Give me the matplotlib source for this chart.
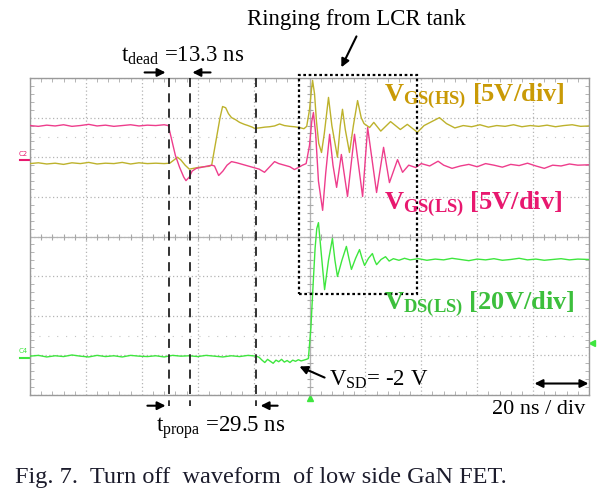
"""
Turn-off waveform of the low side GaN FET (scope capture, Fig. 7)

Three scope channels at 20 ns/div:
    V_GS(HS)  5 V/div  (gold)
    V_GS(LS)  5 V/div  (pink)
    V_DS(LS) 20 V/div  (green)
Levels are in screen divisions from the centre line, time in ns (trigger = 0).

Output:
    out.png
"""

import matplotlib.pyplot as plt
import numpy as np
from matplotlib.patches import Rectangle

# -- Trace data --------------------------------------------------------------

HS_T = [-100, -97, -94, -91, -88, -85, -82, -79, -76, -73, -70, -67, -64, -61,
        -58, -55, -52, -50, -48.5, -47.2, -46, -44.5, -43, -41.5, -40, -38,
        -36, -35, -34, -33, -32, -31.1, -30, -29, -27.9, -26.5, -25, -23.3,
        -22, -20.5, -19.7, -18, -16, -14.3, -12.5, -10.7, -9, -7, -5.4, -3.6,
        -2, -1, 0, 0.7, 1.1, 1.8, 2.5, 3.3, 4.3, 5.3, 6.8, 8.0, 10.0, 11.0,
        11.8, 12.8, 14.3, 15.7, 17.2, 18.5, 19.5, 21.5, 23, 25.5, 29, 32.5, 35,
        38.6, 41, 46.5, 49, 52, 55, 58, 61, 64, 67, 70, 73, 76, 79, 82, 85, 88,
        91, 94, 97, 100]
HS_V = [1.84, 1.86, 1.83, 1.85, 1.82, 1.86, 1.84, 1.87, 1.83, 1.85, 1.84, 1.87,
        1.83, 1.86, 1.84, 1.85, 1.84, 1.85, 1.93, 2.00, 1.93, 1.80, 1.70, 1.72,
        1.74, 1.76, 1.77, 1.80, 2.20, 2.60, 3.00, 3.28, 3.25, 3.10, 3.00, 2.95,
        2.88, 2.83, 2.80, 2.76, 2.73, 2.74, 2.76, 2.77, 2.79, 2.84, 2.80, 2.78,
        2.77, 2.75, 2.72, 2.78, 3.20, 3.70, 3.94, 3.60, 2.90, 2.35, 2.12, 2.60,
        3.51, 2.80, 2.00, 2.80, 3.21, 2.70, 2.12, 2.80, 3.43, 3.00, 2.85, 2.75,
        2.88, 2.66, 2.90, 2.70, 2.83, 2.63, 2.80, 3.00, 2.85, 2.74, 2.80, 2.77,
        2.82, 2.76, 2.80, 2.78, 2.82, 2.77, 2.80, 2.78, 2.81, 2.77, 2.80, 2.82,
        2.78, 2.79]

LS_T = [-100, -97, -94, -91, -88, -85, -82, -79, -76, -73, -70, -67, -64, -61,
        -58, -55, -52, -50.5, -49.5, -48, -46.5, -45, -44.2, -43, -42, -40.5,
        -39, -37, -35, -34, -33, -32.5, -31, -29.5, -27.9, -26, -24, -22, -20,
        -18, -16.1, -14.5, -12.5, -11, -9, -7, -5.4, -4, -2.5, -1.2, 0, 0.8,
        1.4, 2.2, 3.2, 4.7, 5.8, 7.2, 8.4, 9.7, 11.4, 13.6, 16.1, 19.0, 20.8,
        24.0, 26.5, 28.6, 31.5, 33.3, 35.5, 38, 40, 43, 46, 48, 51, 54, 57, 60,
        63, 66, 69, 72, 75, 78, 81, 84, 87, 90, 93, 96, 100]
LS_V = [2.80, 2.78, 2.81, 2.79, 2.82, 2.78, 2.80, 2.83, 2.79, 2.81, 2.78, 2.80,
        2.82, 2.79, 2.81, 2.80, 2.82, 2.80, 2.50, 2.05, 1.75, 1.50, 1.41, 1.50,
        1.65, 1.72, 1.74, 1.77, 1.80, 1.78, 1.62, 1.54, 1.65, 1.80, 1.89, 1.86,
        1.82, 1.78, 1.74, 1.70, 1.62, 1.74, 1.89, 1.84, 1.80, 1.76, 1.69, 1.74,
        1.80, 1.84, 2.30, 2.90, 3.13, 2.60, 1.40, 0.66, 1.60, 2.58, 1.80, 1.24,
        2.07, 1.01, 2.58, 1.01, 2.75, 1.11, 2.25, 1.36, 1.94, 1.62, 1.80, 1.74,
        1.84, 1.78, 1.90, 1.80, 1.72, 1.78, 1.82, 1.76, 1.84, 1.80, 1.75, 1.82,
        1.79, 1.85, 1.78, 1.72, 1.80, 1.78, 1.83, 1.80, 1.81]

DS_T = [-100, -97, -94, -91, -88, -85, -82, -79, -76, -73, -70, -67, -64, -61,
        -58, -55, -52, -49, -46, -43, -40, -37, -34, -31, -28, -25, -22, -19,
        -18, -17, -16, -15, -14, -13, -12, -11, -10, -9, -8, -7, -6, -5, -4,
        -3, -2, -1.1, -0.4, 0.5, 1.3, 2.0, 2.6, 3.2, 4.3, 5.4, 6.8, 8.2, 9.1,
        10.0, 11.6, 13.2, 14.1, 15.0, 16.5, 17.9, 18.8, 19.7, 21.1, 22.5, 23.3,
        24.0, 25.6, 27.2, 28.5, 30, 32, 34, 36, 39, 42, 45, 48, 51, 54, 57, 60,
        63, 66, 69, 72, 75, 78, 81, 84, 87, 90, 93, 96, 100]
DS_V = [-3.02, -3.00, -3.04, -3.01, -3.03, -2.99, -3.02, -3.04, -3.00, -3.03,
        -3.01, -3.04, -3.00, -3.02, -3.03, -3.01, -3.04, -3.00, -3.02, -3.01,
        -3.03, -3.00, -3.02, -3.04, -3.01, -3.03, -3.00, -3.02, -3.05, -3.12,
        -3.18, -3.10, -3.15, -3.20, -3.12, -3.16, -3.10, -3.17, -3.13, -3.18,
        -3.12, -3.15, -3.11, -3.14, -3.12, -3.10, -3.08, -2.30, -1.20, -0.30,
        0.20, 0.35, -0.50, -1.34, -0.60, -0.05, -0.60, -1.01, -0.60, -0.25,
        -0.55, -0.83, -0.55, -0.33, -0.55, -0.73, -0.55, -0.43, -0.60, -0.71,
        -0.58, -0.51, -0.62, -0.56, -0.60, -0.55, -0.59, -0.56, -0.60, -0.57,
        -0.59, -0.55, -0.58, -0.61, -0.57, -0.59, -0.56, -0.60, -0.58, -0.55,
        -0.59, -0.57, -0.60, -0.58, -0.56, -0.59, -0.57, -0.58]

# channel markers (levels in divisions)
C2_LEVEL = 1.97
C4_LEVEL = -3.02
TRIG_LEVEL = -2.68

# -- Annotation positions ----------------------------------------------------

CURSOR_T = [-50.1, -42.9, -19.0]        # dashed timing cursors
BOX_T = (-3.9, 38.6)                    # ringing box, time span
BOX_V = (-1.46, 4.07)                   # ringing box, level span

HS_TRACE, HS_TEXT = "#bdb22c", "#c99a06"
LS_TRACE, LS_TEXT = "#ee3d8c", "#e8186f"
DS_TRACE, DS_TEXT = "#3ee63e", "#3cbf3c"

plt.rcParams["font.family"] = "Liberation Serif"
plt.rcParams["mathtext.fontset"] = "custom"
plt.rcParams["mathtext.rm"] = "Liberation Serif"
plt.rcParams["mathtext.it"] = "Liberation Serif:italic"
plt.rcParams["mathtext.bf"] = "Liberation Serif:bold"

fig = plt.figure(figsize=(6.10, 5.03), dpi=100)
ax = fig.add_axes([30 / 610, 1 - 395 / 503, 559 / 610, 317 / 503])

# -- Graticule ---------------------------------------------------------------
ax.set_xlim(-100, 100)
ax.set_ylim(-4, 4)
ax.set_xticks(np.arange(-100, 101, 20))
ax.set_yticks(np.arange(-4, 5, 1))
ax.set_xticks(np.arange(-100, 101, 4), minor=True)
ax.set_yticks(np.arange(-4, 4.01, 0.2), minor=True)
ax.tick_params(which="major", length=0, labelbottom=False, labelleft=False)
ax.tick_params(which="minor", direction="in", length=3, color="#a8a8a8",
               top=True, right=True)
ax.grid(which="major", color="#b4b4b4", ls=(0, (1, 2)), lw=0.9)
for sp in ax.spines.values():
    sp.set_color("#9a9a9a")
    sp.set_linewidth(1.0)

ax.axhline(0, color="#b4b4b4", lw=0.9)
ax.axvline(0, color="#b4b4b4", lw=0.9)
ax.plot(np.arange(-100, 101, 4), np.zeros(51), ls="none", marker="|",
        ms=5, color="#a8a8a8", mew=0.8)
ax.plot(np.zeros(41), np.arange(-4, 4.01, 0.2), ls="none", marker="_",
        ms=5, color="#a8a8a8", mew=0.8)
for lvl in (2.5, -2.5):
    ax.axhline(lvl, color="#c4c4c4", ls=(0, (1, 7)), lw=0.8)

# -- Traces ------------------------------------------------------------------
ax.plot(HS_T, HS_V, color=HS_TRACE, lw=1.0, zorder=3)
ax.plot(LS_T, LS_V, color=LS_TRACE, lw=1.0, zorder=4)
ax.plot(DS_T, DS_V, color=DS_TRACE, lw=1.0, zorder=4)

# channel / trigger markers
ax.text(-102.5, C2_LEVEL + 0.12, "C2", color=LS_TEXT, fontsize=5,
        ha="center", va="center", family="DejaVu Sans", clip_on=False)
ax.plot([-103.5, -100], [C2_LEVEL - 0.05] * 2, color=LS_TEXT, lw=1.5,
        clip_on=False)
ax.text(-102.5, C4_LEVEL + 0.12, "C4", color=DS_TRACE, fontsize=5,
        ha="center", va="center", family="DejaVu Sans", clip_on=False)
ax.plot([-103.5, -100], [C4_LEVEL - 0.05] * 2, color=DS_TRACE, lw=1.5,
        clip_on=False)
ax.plot([101.2], [TRIG_LEVEL], marker="<", ms=4, color=DS_TRACE, clip_on=False)
ax.plot([0], [-4.08], marker="^", ms=4, color=DS_TRACE, clip_on=False)

# -- Annotations -------------------------------------------------------------
for t in CURSOR_T:
    ax.plot([t, t], [4.0, -4.27], color="#222222", ls=(0, (5, 3.5)), lw=1.3,
            clip_on=False, zorder=5)

ax.add_patch(Rectangle((BOX_T[0], BOX_V[0]), BOX_T[1] - BOX_T[0],
                       BOX_V[1] - BOX_V[0], fill=False, ec="black",
                       ls=(0, (1.2, 1.2)), lw=1.6, clip_on=False, zorder=5))

arrow = dict(arrowstyle="-|>", color="black", lw=1.5, mutation_scale=12,
             shrinkA=0, shrinkB=0)


def pointer(head, tail, style=arrow):
    ax.annotate("", xy=head, xytext=tail, arrowprops=style,
                annotation_clip=False)


pointer((-51.5, 4.14), (-59.0, 4.14))
pointer((-41.9, 4.14), (-35.4, 4.14))
pointer((-51.5, -4.27), (-58.0, -4.27))
pointer((-17.5, -4.27), (-11.4, -4.27))
pointer((11.4, 4.27), (16.8, 5.05))
pointer((-3.6, -3.28), (5.4, -3.56))
pointer((99.8, -3.71), (80.5, -3.71),
        dict(arrowstyle="<|-|>", color="black", lw=1.5, mutation_scale=12,
             shrinkA=0, shrinkB=0))

ax.text(-45.4, 4.55, r"$\mathrm{t_{dead}}$ =13.3 ns", fontsize=16.5,
        ha="center", va="center", clip_on=False)
ax.text(-31.8, -4.82, r"$\mathrm{t_{propa}}$ =29.5 ns", fontsize=16.5,
        ha="center", va="center", clip_on=False)
ax.text(16.8, 5.48, "Ringing from LCR tank", fontsize=16.5,
        ha="center", va="center", clip_on=False)
ax.text(7.0, -3.61, r"$\mathrm{V_{SD}}$= -2 V", fontsize=16.5,
        ha="left", va="center", clip_on=False)
ax.text(81.8, -4.37, "20 ns / div", fontsize=16,
        ha="center", va="center", clip_on=False)

ax.text(26.8, 3.54, r"$\mathbf{V_{GS(HS)}}$ [5V/div]", fontsize=19,
        fontweight="bold", color=HS_TEXT, ha="left", va="center", zorder=6)
ax.text(26.8, 0.81, r"$\mathbf{V_{GS(LS)}}$ [5V/div]", fontsize=19,
        fontweight="bold", color=LS_TEXT, ha="left", va="center", zorder=6)
ax.text(26.8, -1.72, r"$\mathbf{V_{DS(LS)}}$ [20V/div]", fontsize=19,
        fontweight="bold", color=DS_TEXT, ha="left", va="center", zorder=6)

fig.text(15 / 610, 1 - 477 / 503,
         "Fig. 7.  Turn off  waveform  of low side GaN FET.",
         fontsize=17.5, ha="left", va="center", color="#1c1c2c")

fig.savefig("out.png", dpi=100)
plt.close(fig)
